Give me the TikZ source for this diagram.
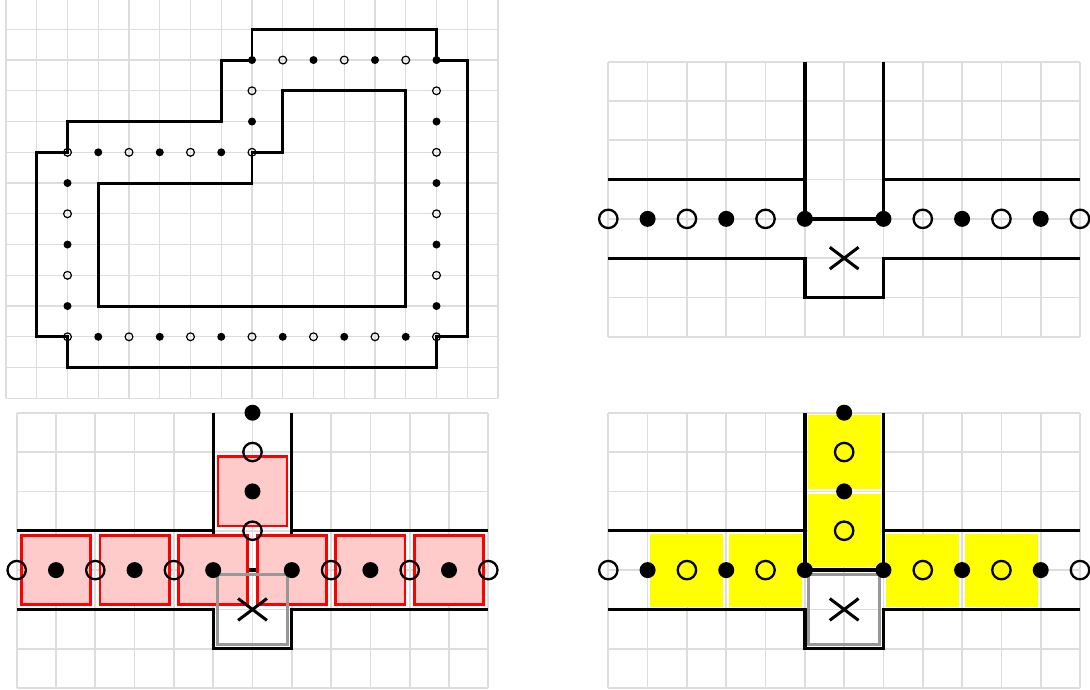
\documentclass[tikz,border=0pt]{standalone}
\definecolor{gridc}{RGB}{221,221,221}
\definecolor{pinkc}{RGB}{255,202,202}
\definecolor{grayc}{RGB}{152,152,152}
\definecolor{yelc}{RGB}{255,255,0}
\tikzset{
  gridA/.style={draw=gridc, line width=1.3pt},
  gridB/.style={draw=gridc, line width=1.7pt},
  wallA/.style={draw=black, line width=2.9pt},
  wallB/.style={draw=black, line width=3.3pt},
  fdotA/.style={fill=black},
  odotA/.style={draw=black, line width=1.2pt},
  fdotB/.style={fill=black},
  odotB/.style={draw=black, line width=2.3pt},
  redsq/.style={draw=red, fill=pinkc, line width=2.8pt},
  yelsq/.style={fill=yelc},
  graysq/.style={draw=grayc, line width=3pt},
  xmark/.style={draw=black, line width=3pt}
}
\newcommand\cellgrid[3]{% style, cols, rows
  \foreach \i in {0,...,#2} \draw[#1] (\i,0) -- (\i,#3);
  \foreach \j in {0,...,#3} \draw[#1] (0,\j) -- (#2,\j);
}
\newcommand\teewalls{%
  \draw[wallB] (0,3) -- (5,3);
  \draw[wallB] (7,3) -- (12,3);
  \draw[wallB] (5,0) -- (5,4) -- (7,4) -- (7,0);
  \draw[wallB] (0,5) -- (5,5) -- (5,6) -- (7,6) -- (7,5) -- (12,5);
}
\newcommand\rowdots{%
  \foreach \c in {0,2,4,8,10,12} \draw[odotB] (\c,4) circle[radius=9.2pt];
  \foreach \c in {1,3,5,7,9,11} \fill[fdotB] (\c,4) circle[radius=8pt];
}
\newcommand\coldots{%
  \foreach \r in {1,3} \draw[odotB] (6,\r) circle[radius=9.2pt];
  \foreach \r in {0,2} \fill[fdotB] (6,\r) circle[radius=8pt];
}
\newcommand\xcross{%
  \draw[xmark] (6,5) ++(-14.4pt,-10.9pt) -- ++(28.8pt,21.8pt);
  \draw[xmark] (6,5) ++(-14.4pt,10.9pt) -- ++(28.8pt,-21.8pt);
}
\begin{document}
\begin{tikzpicture}[x=1pt,y=-1pt]
\useasboundingbox (0,0) rectangle (1090,689);

% ---------- Panel 1 (top left) ----------
\begin{scope}[shift={(6,-1.45)}, x=30.75pt, y=-30.75pt]
  \cellgrid{gridA}{16}{13}
  \draw[wallA] (8,1) -- (14,1) -- (14,2) -- (15,2) -- (15,11) -- (14,11) -- (14,12)
     -- (2,12) -- (2,11) -- (1,11) -- (1,5) -- (2,5) -- (2,4) -- (7,4) -- (7,2) -- (8,2) -- cycle;
  \draw[wallA] (9,3) -- (13,3) -- (13,10) -- (3,10) -- (3,6) -- (8,6) -- (8,5) -- (9,5) -- cycle;
  \foreach \c/\r in {8/2,10/2,12/2,14/2,14/4,14/6,14/8,14/10,13/11,11/11,9/11,7/11,5/11,3/11,
                     2/10,2/8,2/6,3/5,5/5,7/5,8/4}
    \fill[fdotA] (\c,\r) circle[radius=4pt];
  \foreach \c/\r in {9/2,11/2,13/2,14/3,14/5,14/7,14/9,14/11,12/11,10/11,8/11,6/11,4/11,2/11,
                     2/9,2/7,2/5,4/5,6/5,8/5,8/3}
    \draw[odotA] (\c,\r) circle[radius=3.9pt];
\end{scope}

% ---------- Panel 2 (top right) ----------
\begin{scope}[shift={(608.3,61.7)}, x=39.31pt, y=-39.29pt]
  \cellgrid{gridB}{12}{7}
  \teewalls
  \xcross
  \rowdots
\end{scope}

% ---------- Panel 3 (bottom left) ----------
\begin{scope}[shift={(16.7,412.7)}, x=39.3pt, y=-39.35pt]
  \cellgrid{gridB}{12}{7}
  \teewalls
  \foreach \c in {1,3,5,7,9,11}
    \draw[redsq] (\c-0.88,3.12) rectangle (\c+0.88,4.88);
  \draw[redsq] (5.12,1.12) rectangle (6.88,2.88);
  \draw[graysq] (5.1,4.1) rectangle (6.9,5.9);
  \xcross
  \rowdots
  \coldots
\end{scope}

% ---------- Panel 4 (bottom right) ----------
\begin{scope}[shift={(608.3,412.7)}, x=39.31pt, y=-39.35pt]
  \cellgrid{gridB}{12}{7}
  \foreach \c in {2,4,8,10}
    \fill[yelsq] (\c-0.93,3.07) rectangle (\c+0.93,4.93);
  \foreach \r in {1,3}
    \fill[yelsq] (5.07,\r-0.93) rectangle (6.93,\r+0.93);
  \teewalls
  \draw[graysq] (5.1,4.1) rectangle (6.9,5.9);
  \xcross
  \rowdots
  \coldots
\end{scope}
\end{tikzpicture}
\end{document}
